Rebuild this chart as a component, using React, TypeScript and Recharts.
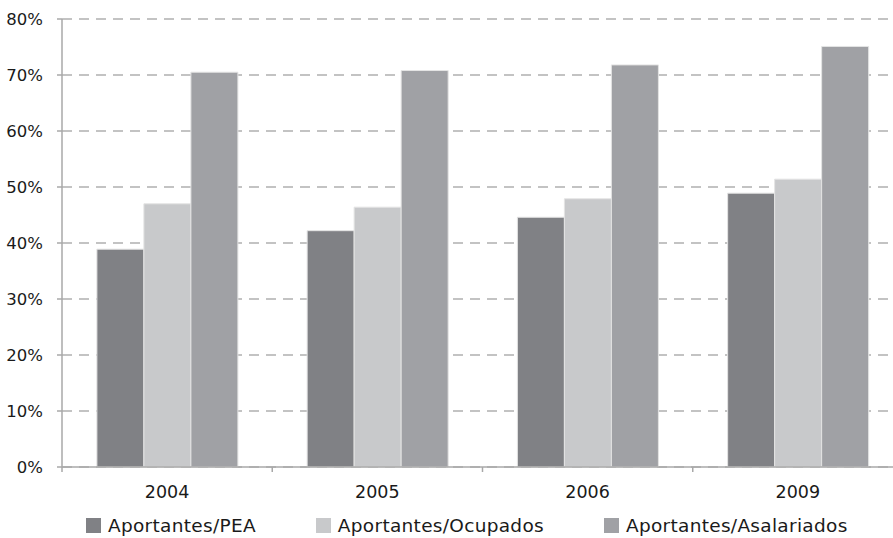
import { BarChart, Bar, XAxis, YAxis, CartesianGrid, Legend } from "recharts";

const YEARS = ["2004", "2005", "2006", "2009"];
const PEA = [38.9, 42.2, 44.6, 48.9];
const OCUPADOS = [47.0, 46.4, 47.9, 51.4];
const ASALARIADOS = [70.5, 70.8, 71.8, 75.1];
const Y_TICKS = [0, 10, 20, 30, 40, 50, 60, 70, 80];

const SERIES = [
  { key: "pea", label: "Aportantes/PEA", color: "#808185" },
  { key: "ocupados", label: "Aportantes/Ocupados", color: "#c8c9cb" },
  { key: "asalariados", label: "Aportantes/Asalariados", color: "#a0a1a5" },
];

const data = YEARS.map((year, i) => ({
  year,
  pea: PEA[i],
  ocupados: OCUPADOS[i],
  asalariados: ASALARIADOS[i],
}));

const FONT = "'DejaVu Sans', sans-serif";

// tick mark sits on the category boundary, label in the middle
function YearTick(props: any) {
  const { x, y, payload } = props;
  const off = payload?.offset ?? 0;
  return (
    <g>
      <line x1={x - off} x2={x - off} y1={y} y2={y + 5} stroke="#a8a8a8" strokeWidth={1.5} />
      <text x={x} y={y + 19} dy="0.71em" textAnchor="middle" fill="#1a1a1a" fontSize={17.5} fontFamily={FONT}>
        {payload.value}
      </text>
    </g>
  );
}

function LegendContent() {
  return (
    <div style={{ display: "flex", paddingLeft: 86, fontFamily: FONT, fontSize: 18.5, letterSpacing: 0.3, color: "#1a1a1a" }}>
      {SERIES.map((s) => (
        <div key={s.key} style={{ display: "flex", alignItems: "center", marginRight: 60 }}>
          <span style={{ display: "inline-block", width: 15, height: 15, background: s.color, marginRight: 7 }} />
          <span>{s.label}</span>
        </div>
      ))}
    </div>
  );
}

export default function App() {
  return (
    <div style={{ position: "absolute", left: 0, top: 0, width: 893, height: 538, overflow: "hidden", background: "#fff" }}>
      <BarChart
        width={903}
        height={538}
        data={data}
        margin={{ top: 19, right: 0, bottom: 0, left: 0 }}
        barCategoryGap="16.6%"
        barGap={0}
      >
        <CartesianGrid vertical={false} stroke="#b0b0b0" strokeWidth={1.5} strokeDasharray="10 7" />
        <XAxis
          dataKey="year"
          height={48}
          tickLine={false}
          tickSize={0}
          tickMargin={0}
          axisLine={{ stroke: "#a8a8a8", strokeWidth: 1.5 }}
          tick={<YearTick />}
        />
        <YAxis
          width={62}
          domain={[0, 80]}
          ticks={Y_TICKS}
          tickFormatter={(v) => `${v}%`}
          tickSize={5}
          tickMargin={14}
          axisLine={{ stroke: "#a8a8a8", strokeWidth: 1.5 }}
          tickLine={{ stroke: "#a8a8a8", strokeWidth: 1.5 }}
          tick={{ fill: "#1a1a1a", fontSize: 16.5, fontFamily: FONT }}
        />
        <Legend verticalAlign="bottom" height={23} content={<LegendContent />} />
        {SERIES.map((s) => (
          <Bar
            key={s.key}
            dataKey={s.key}
            name={s.label}
            fill={s.color}
            stroke="#e4e4e4"
            strokeWidth={1}
            isAnimationActive={false}
          />
        ))}
      </BarChart>
    </div>
  );
}
